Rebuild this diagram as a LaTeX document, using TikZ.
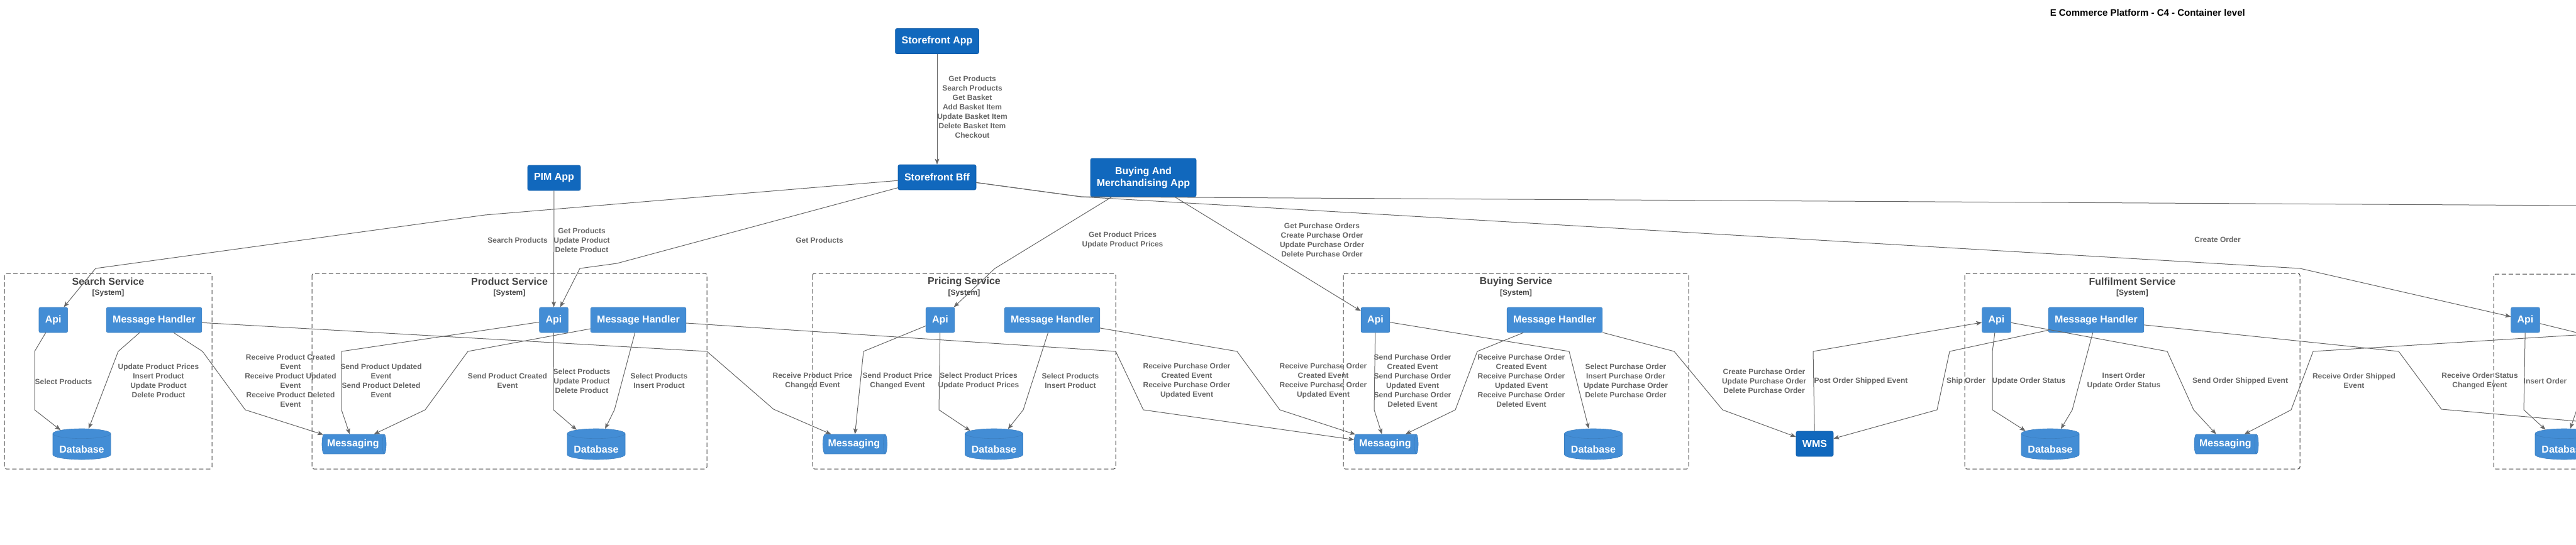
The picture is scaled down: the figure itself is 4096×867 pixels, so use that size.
\documentclass[tikz,border=0pt]{standalone}
\usepackage{fontspec}
\setmainfont{Liberation Sans}
\usetikzlibrary{arrows.meta,shapes.geometric}
\definecolor{sysblue}{HTML}{1168BD}
\definecolor{sysline}{HTML}{0E5AA7}
\definecolor{contblue}{HTML}{438DD5}
\definecolor{contline}{HTML}{3C7FC0}
\definecolor{relgray}{HTML}{666666}
\definecolor{bndgray}{HTML}{444444}

\begin{document}
\begin{tikzpicture}[x=1pt,y=-1pt,
    ext/.style={rectangle, rounded corners=2.5pt, fill=sysblue, draw=sysline, line width=0.6pt,
      text=white, font=\fontsize{16}{19}\selectfont\bfseries, minimum height=40pt, inner xsep=10pt, inner ysep=0pt},
    cont/.style={ext, fill=contblue, draw=contline},
    dbase/.style={cylinder, shape border rotate=90, aspect=0.22, fill=contblue, draw=contline, line width=0.6pt,
      text=white, font=\fontsize{16}{19}\selectfont\bfseries, minimum width=92pt, minimum height=49pt, inner sep=0pt, anchor=shape center},
    queue/.style={cylinder, aspect=0.4, fill=contblue, draw=contline, line width=0.6pt,
      text=white, font=\fontsize{16}{19}\selectfont\bfseries, minimum width=31pt, minimum height=102pt, inner sep=0pt, anchor=shape center},
    rel/.style={draw=relgray, line width=1pt, -{Stealth[length=9pt,width=7pt,inset=2pt]}},
    lbl/.style={text=relgray, font=\fontsize{12}{15}\selectfont\bfseries, align=center, inner sep=0pt},
    bnd/.style={draw=bndgray, line width=1pt, dash pattern=on 7pt off 4pt, rounded corners=3pt},
    bndtitle/.style={text=bndgray, font=\fontsize{16}{19}\selectfont\bfseries, inner sep=0pt},
    bndtype/.style={text=bndgray, font=\fontsize{12}{14}\selectfont\bfseries, inner sep=0pt}]
    \useasboundingbox (0,0) rectangle (4096,867);
    \clip (0,0) rectangle (4096,867);
    % title
    \node[font=\fontsize{15}{18}\selectfont\bfseries, anchor=east, inner sep=0pt] (title) at (3570,20) {E Commerce Platform - C4 - Container level};
    % apps
    \node[ext] (sfapp) at (1490,65.5) {Storefront App};
    \node[ext] (sfbff) at (1490,282) {Storefront Bff};
    \node[ext] (pimapp) at (881,283) {PIM App};
    \node[ext, align=center, minimum width=168pt, minimum height=61pt, inner xsep=5pt] (bmapp) at (1818,282.5) {Buying And\\Merchandising App};
    \node[ext] (wms) at (2885.5,706) {WMS};
    % search service
    \draw[bnd] (7,435) rectangle (337,746);
    \node[bndtitle] (searchtitle) at (172,448) {Search Service};
    \node[bndtype] (searchtype) at (172,466) {[System]};
    \node[cont] (searchapi) at (84.75,509) {Api};
    \node[cont] (searchmh) at (245,509) {Message Handler};
    \node[dbase] (searchdb) at (130,706.5) {\raisebox{-10pt}[0pt][0pt]{Database}};
    % product service
    \draw[bnd] (496,435) rectangle (1124,746);
    \node[bndtitle] (producttitle) at (810,448) {Product Service};
    \node[bndtype] (producttype) at (810,466) {[System]};
    \node[cont] (productapi) at (880.5,509) {Api};
    \node[cont] (productmh) at (1015,509) {Message Handler};
    \node[dbase] (productdb) at (948,706.5) {\raisebox{-10pt}[0pt][0pt]{Database}};
    \node[queue] (productmq) at (563,706.5) {Messaging};
    % pricing service
    \draw[bnd] (1292,435) rectangle (1774,746);
    \node[bndtitle] (pricingtitle) at (1533,448) {Pricing Service};
    \node[bndtype] (pricingtype) at (1533,466) {[System]};
    \node[cont] (pricingapi) at (1495,509) {Api};
    \node[cont] (pricingmh) at (1673,509) {Message Handler};
    \node[dbase] (pricingdb) at (1580.5,706.5) {\raisebox{-10pt}[0pt][0pt]{Database}};
    \node[queue] (pricingmq) at (1359.5,706.5) {Messaging};
    % buying service
    \draw[bnd] (2136,435) rectangle (2685,746);
    \node[bndtitle] (buyingtitle) at (2410.5,448) {Buying Service};
    \node[bndtype] (buyingtype) at (2410.5,466) {[System]};
    \node[cont] (buyingapi) at (2187,509) {Api};
    \node[cont] (buyingmh) at (2472,509) {Message Handler};
    \node[dbase] (buyingdb) at (2533.5,706.5) {\raisebox{-10pt}[0pt][0pt]{Database}};
    \node[queue] (buyingmq) at (2204,706.5) {Messaging};
    % fulfilment service
    \draw[bnd] (3124,435) rectangle (3657,746);
    \node[bndtitle] (fulfiltitle) at (3390.5,448) {Fulfilment Service};
    \node[bndtype] (fulfiltype) at (3390.5,466) {[System]};
    \node[cont] (fulfilapi) at (3174.5,509) {Api};
    \node[cont] (fulfilmh) at (3333,509) {Message Handler};
    \node[dbase] (fulfildb) at (3260,706.5) {\raisebox{-10pt}[0pt][0pt]{Database}};
    \node[queue] (fulfilmq) at (3540,706.5) {Messaging};
    % cut off on the right
    \draw[bnd] (3965,436) rectangle (4400,746);
    \node[cont] (orderapi) at (4015.5,509) {Api};
    \node[dbase] (orderdb) at (4077,706.5) {\raisebox{-10pt}[0pt][0pt]{Database}};
    \coordinate (offtop) at (4300,328.2);
    \coordinate (offa) at (4300,520.3);
    \coordinate (offb) at (4300,688);
    \coordinate (offd) at (4300,579);
    \coordinate (offe) at (4115,600);
    % storefront
    \draw[rel] (sfapp) -- (sfbff) node[lbl] at (1546,170) {Get Products\\Search Products\\Get Basket\\Add Basket Item\\Update Basket Item\\Delete Basket Item\\Checkout};
    \draw[rel] (sfbff) -- (771,342) -- (152,427) -- (searchapi) node[lbl] at (823,382) {Search Products};
    \draw[rel] (sfbff) -- (981,419) -- (922,427) -- (productapi) node[lbl] at (1303,382) {Get Products};
    \draw[rel] (sfbff) -- (1719,313) -- (3657,427) -- (orderapi) node[lbl] at (3526,381) {Create Order};
    \draw[rel] (sfbff) -- (1719,313) -- (offtop);
    \draw[rel] (pimapp) -- (productapi) node[lbl] at (925,382) {Get Products\\Update Product\\Delete Product};
    \draw[rel] (bmapp) -- (1582,427) -- (pricingapi) node[lbl] at (1785,382) {Get Product Prices\\Update Product Prices};
    \draw[rel] (bmapp) -- (buyingapi) node[lbl] at (2102,382) {Get Purchase Orders\\Create Purchase Order\\Update Purchase Order\\Delete Purchase Order};
    % search links
    \draw[rel] (searchapi) -- (55,559) -- (55,652) -- (searchdb) node[lbl] at (101,607) {Select Products};
    \draw[rel] (searchmh) -- (188,559) -- (searchdb) node[lbl] at (252,606) {Update Product Prices\\Insert Product\\Update Product\\Delete Product};
    \draw[rel] (searchmh) -- (322,559) -- (390,652) -- (productmq) node[lbl] at (462,606) {Receive Product Created\\Event\\Receive Product Updated\\Event\\Receive Product Deleted\\Event};
    \draw[rel] (searchmh) -- (1124,559) -- (1230,651) -- (pricingmq) node[lbl] at (1292,606) {Receive Product Price\\Changed Event};
    % product links
    \draw[rel] (productapi) -- (543,559) -- (543,652) -- (productmq) node[lbl] at (606,606) {Send Product Updated\\Event\\Send Product Deleted\\Event};
    \draw[rel] (productmh) -- (744,559) -- (676,652) -- (productmq) node[lbl] at (807,606) {Send Product Created\\Event};
    \draw[rel] (productapi) -- (880,652) -- (productdb) node[lbl] at (925,606) {Select Products\\Update Product\\Delete Product};
    \draw[rel] (productmh) -- (977,652) -- (productdb) node[lbl] at (1048,606) {Select Products\\Insert Product};
    \draw[rel] (productmh) -- (1774,559) -- (1818,652) -- (buyingmq) node[lbl] at (1887,606) {Receive Purchase Order\\Created Event\\Receive Purchase Order\\Updated Event};
    % pricing links
    \draw[rel] (pricingapi) -- (1373,559) -- (pricingmq) node[lbl] at (1427,606) {Send Product Price\\Changed Event};
    \draw[rel] (pricingapi) -- (1493,652) -- (pricingdb) node[lbl] at (1556,606) {Select Product Prices\\Update Product Prices};
    \draw[rel] (pricingmh) -- (1627,652) -- (pricingdb) node[lbl] at (1702,606) {Select Products\\Insert Product};
    \draw[rel] (pricingmh) -- (1967,559) -- (2035,652) -- (buyingmq) node[lbl] at (2104,606) {Receive Purchase Order\\Created Event\\Receive Purchase Order\\Updated Event};
    % buying links
    \draw[rel] (buyingapi) -- (2185,652) -- (buyingmq) node[lbl] at (2246,606) {Send Purchase Order\\Created Event\\Send Purchase Order\\Updated Event\\Send Purchase Order\\Deleted Event};
    \draw[rel] (buyingmh) -- (2349,559) -- (2314,652) -- (buyingmq) node[lbl] at (2419,606) {Receive Purchase Order\\Created Event\\Receive Purchase Order\\Updated Event\\Receive Purchase Order\\Deleted Event};
    \draw[rel] (buyingapi) -- (2495,559) -- (buyingdb) node[lbl] at (2585,606) {Select Purchase Order\\Insert Purchase Order\\Update Purchase Order\\Delete Purchase Order};
    \draw[rel] (buyingmh) -- (2662,559) -- (2739,652) -- (wms) node[lbl] at (2805,606) {Create Purchase Order\\Update Purchase Order\\Delete Purchase Order};
    % fulfilment links
    \draw[rel] (wms) -- (2883,559) -- (fulfilapi) node[lbl] at (2959,606) {Post Order Shipped Event};
    \draw[rel] (fulfilmh) -- (3100,559) -- (3080,652) -- (wms) node[lbl] at (3126,606) {Ship Order};
    \draw[rel] (fulfilapi) -- (3168,559) -- (3168,652) -- (fulfildb) node[lbl] at (3226,606) {Update Order Status};
    \draw[rel] (fulfilmh) -- (3295,652) -- (fulfildb) node[lbl] at (3377,606) {Insert Order\\Update Order Status};
    \draw[rel] (fulfilapi) -- (3446,559) -- (3488,652) -- (fulfilmq) node[lbl] at (3562,606) {Send Order Shipped Event};
    \draw[rel] (offa) -- (3678,559) -- (3643,652) -- (fulfilmq) node[lbl] at (3743,606) {Receive Order Shipped\\Event};
    \draw[rel] (fulfilmh) -- (3814,559) -- (3882,651) -- (offb) node[lbl] at (3943,606) {Receive Order Status\\Changed Event};
    % order links
    \draw[rel] (orderapi) -- (4013,652) -- (orderdb) node[lbl] at (4047,606) {Insert Order};
    \draw[rel] (orderapi) -- (offd);
    \draw[rel] (offe) -- (orderdb);
\end{tikzpicture}
\end{document}
